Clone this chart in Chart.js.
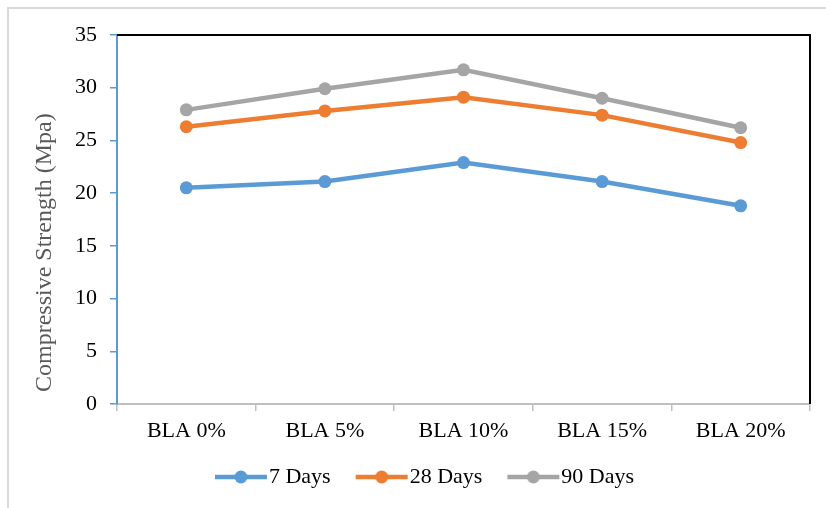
<!DOCTYPE html>
<html>
<head>
<meta charset="utf-8">
<style>
  html, body { margin: 0; padding: 0; background: #ffffff; }
  #wrap { position: relative; width: 826px; height: 508px; }
</style>
<script src="https://cdn.jsdelivr.net/npm/chart.js@4/dist/chart.umd.min.js"></script>
</head>
<body>
<div id="wrap"><canvas id="chart" width="826" height="508"></canvas></div>
<script>
// Compressive strength of concrete with banana leaf ash (BLA) replacement
const categories = ['BLA 0%', 'BLA 5%', 'BLA 10%', 'BLA 15%', 'BLA 20%'];
const days7  = [20.5, 21.1, 22.9, 21.1, 18.8];
const days28 = [26.3, 27.8, 29.1, 27.4, 24.8];
const days90 = [27.9, 29.9, 31.7, 29.0, 26.2];
const seriesNames = ['7 Days', '28 Days', '90 Days'];
const yMin = 0, yMax = 35, yStep = 5;
const yTitle = 'Compressive Strength (Mpa)';

const colors = ['#5b9bd5', '#ed7d31', '#a5a5a5'];
const serif = "'Liberation Serif', 'Times New Roman', serif";

// legend marker: a short line with a dot in the middle
function makeMarker(color) {
  const c = document.createElement('canvas');
  c.width = 72; c.height = 14;
  const g = c.getContext('2d');
  g.strokeStyle = color;
  g.lineWidth = 4.5;
  g.beginPath();
  g.moveTo(18, 7); g.lineTo(70, 7);
  g.stroke();
  g.fillStyle = color;
  g.beginPath();
  g.arc(44, 7, 6.5, 0, Math.PI * 2);
  g.fill();
  return c;
}
const markers = colors.map(makeMarker);

// light frame on the top and left edges, black box on top/right of the plot,
// and the rotated value-axis title
const framePlugin = {
  id: 'frame',
  beforeDraw(chart) {
    const ctx = chart.ctx;
    ctx.save();
    ctx.fillStyle = '#ffffff';
    ctx.fillRect(0, 0, chart.width, chart.height);
    ctx.strokeStyle = '#d9d9d9';
    ctx.lineWidth = 2;
    ctx.beginPath();
    ctx.moveTo(8, chart.height);
    ctx.lineTo(8, 8);
    ctx.lineTo(chart.width, 8);
    ctx.stroke();
    ctx.restore();
  },
  afterDatasetsDraw(chart) {
    const {ctx, chartArea: a} = chart;
    ctx.save();
    ctx.strokeStyle = '#000000';
    ctx.lineWidth = 2;
    ctx.beginPath();
    ctx.moveTo(a.left, a.top);
    ctx.lineTo(a.right, a.top);
    ctx.lineTo(a.right, a.bottom);
    ctx.stroke();
    ctx.restore();
  },
  afterDraw(chart) {
    const ctx = chart.ctx;
    const a = chart.chartArea;
    ctx.save();
    ctx.translate(45, a.bottom - 12);
    ctx.rotate(-Math.PI / 2);
    ctx.fillStyle = '#595959';
    ctx.font = '24px ' + serif;
    ctx.textAlign = 'left';
    ctx.textBaseline = 'middle';
    ctx.fillText(yTitle, 0, 0);
    ctx.restore();
  }
};

function makeDataset(label, data, color) {
  return {
    label,
    data,
    borderColor: color,
    backgroundColor: color,
    pointBackgroundColor: color,
    pointBorderColor: color,
    borderWidth: 4.5,
    pointRadius: 6.5,
    pointHoverRadius: 6.5,
    pointBorderWidth: 0,
    tension: 0
  };
}

new Chart(document.getElementById('chart'), {
  type: 'line',
  data: {
    labels: categories,
    datasets: [
      makeDataset(seriesNames[0], days7, colors[0]),
      makeDataset(seriesNames[1], days28, colors[1]),
      makeDataset(seriesNames[2], days90, colors[2])
    ]
  },
  options: {
    responsive: false,
    animation: false,
    layout: { padding: { left: 32, right: 16, top: 35, bottom: 10 } },
    plugins: {
      tooltip: { enabled: false },
      legend: {
        position: 'bottom',
        labels: {
          usePointStyle: true,
          pointStyleWidth: 50,
          padding: 18,
          color: '#000000',
          font: { family: serif, size: 22 },
          generateLabels(chart) {
            const items = Chart.defaults.plugins.legend.labels.generateLabels(chart);
            items.forEach((it, i) => { it.pointStyle = markers[i]; });
            return items;
          }
        }
      }
    },
    scales: {
      x: {
        offset: true,
        grid: {
          offset: true,
          drawOnChartArea: false,
          drawTicks: true,
          tickLength: 7,
          color: '#bfbfbf',
          lineWidth: 1.5
        },
        border: { display: true, color: '#bfbfbf', width: 2 },
        ticks: {
          color: '#000000',
          padding: 7,
          maxRotation: 0,
          font: { family: serif, size: 22 }
        },
        afterFit(scale) { scale.height = 44; }
      },
      y: {
        min: yMin,
        max: yMax,
        ticks: {
          stepSize: yStep,
          color: '#000000',
          padding: 13,
          font: { family: serif, size: 22 }
        },
        grid: {
          drawOnChartArea: false,
          drawTicks: true,
          tickLength: 7,
          color: '#5b9bd5',
          lineWidth: 1.5
        },
        border: { display: true, color: '#5b9bd5', width: 2 },
        afterFit(scale) { scale.width = 85; }
      }
    }
  },
  plugins: [framePlugin]
});
</script>
</body>
</html>
